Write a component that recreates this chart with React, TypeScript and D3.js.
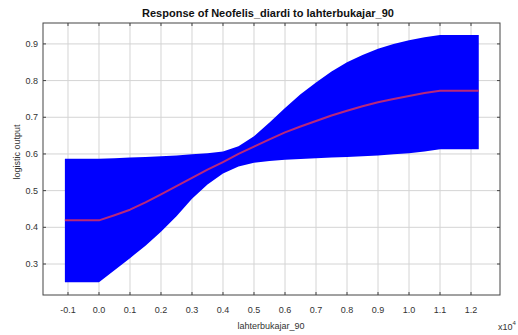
import React from "react";
import * as d3 from "d3";

const xs = [-0.11, 0.0, 0.05, 0.1, 0.15, 0.2, 0.25, 0.3, 0.35, 0.4, 0.45, 0.5, 0.55, 0.6, 0.65, 0.7, 0.75, 0.8, 0.85, 0.9, 0.95, 1.0, 1.05, 1.1, 1.225];
const upper = [0.587, 0.587, 0.588, 0.59, 0.592, 0.594, 0.596, 0.599, 0.602, 0.607, 0.621, 0.648, 0.686, 0.725, 0.763, 0.795, 0.825, 0.85, 0.87, 0.887, 0.9, 0.91, 0.918, 0.924, 0.924];
const lower = [0.25, 0.25, 0.283, 0.316, 0.35, 0.388, 0.43, 0.478, 0.517, 0.547, 0.566, 0.576, 0.581, 0.584, 0.586, 0.588, 0.59, 0.592, 0.594, 0.596, 0.599, 0.602, 0.607, 0.613, 0.613];
const meanVals = [0.419, 0.419, 0.433, 0.448, 0.468, 0.49, 0.512, 0.535, 0.557, 0.578, 0.6, 0.62, 0.64, 0.659, 0.675, 0.69, 0.705, 0.718, 0.73, 0.741, 0.75, 0.758, 0.766, 0.772, 0.772];

const xTicks = [-0.1, 0, 0.1, 0.2, 0.3, 0.4, 0.5, 0.6, 0.7, 0.8, 0.9, 1.0, 1.1, 1.2];
const yTicks = [0.3, 0.4, 0.5, 0.6, 0.7, 0.8, 0.9];

const title = "Response of Neofelis_diardi to lahterbukajar_90";
const xLabel = "lahterbukajar_90";
const yLabel = "logistic output";

export default function App() {
  const L = 43, R = 500, T = 23, B = 295;
  const x = d3.scaleLinear().domain([-0.1806, 1.2935]).range([L, R]);
  const y = d3.scaleLinear().domain([0.2155, 0.957]).range([B, T]);
  const pts = xs.map((v, i) => ({ x: v, lo: lower[i], hi: upper[i], m: meanVals[i] }));
  const area = d3
    .area<any>()
    .x((d) => x(d.x))
    .y0((d) => y(d.lo))
    .y1((d) => y(d.hi))
    .curve(d3.curveLinear);
  const line = d3
    .line<any>()
    .x((d) => x(d.x))
    .y((d) => y(d.m))
    .curve(d3.curveLinear);
  const font = "Arial, 'Liberation Sans', sans-serif";
  const grid = "#d4d4d4";
  return (
    <svg
      width={518}
      height={335}
      style={{ position: "absolute", left: 0, top: 0, background: "#fff" }}
      fontFamily={font}
    >
      <rect x={0} y={0} width={518} height={335} fill="#fff" />
      <text x={268} y={17} textAnchor="middle" fontWeight="bold" fontSize={11} fill="#111">
        {title}
      </text>
      {xTicks.map((t) => (
        <line key={"gx" + t} x1={x(t)} x2={x(t)} y1={T} y2={B} stroke={grid} strokeWidth={1} />
      ))}
      {yTicks.map((t) => (
        <line key={"gy" + t} x1={L} x2={R} y1={y(t)} y2={y(t)} stroke={grid} strokeWidth={1} />
      ))}
      <path d={area(pts) || ""} fill="#0000ff" stroke="none" />
      <path d={line(pts) || ""} fill="none" stroke="#b8287a" strokeWidth={2} strokeLinejoin="round" />
      <rect x={L} y={T} width={R - L} height={B - T} fill="none" stroke="#444" strokeWidth={1} />
      {xTicks.map((t) => (
        <g key={"tx" + t}>
          <line x1={x(t)} x2={x(t)} y1={B} y2={B - 3} stroke="#444" />
          <line x1={x(t)} x2={x(t)} y1={T} y2={T + 3} stroke="#444" />
          <text x={x(t)} y={313} textAnchor="middle" fontSize={9} fill="#333">
            {t.toFixed(1)}
          </text>
        </g>
      ))}
      {yTicks.map((t) => (
        <g key={"ty" + t}>
          <line x1={L} x2={L + 3} y1={y(t)} y2={y(t)} stroke="#444" />
          <line x1={R} x2={R - 3} y1={y(t)} y2={y(t)} stroke="#444" />
          <text x={38} y={y(t) + 3} textAnchor="end" fontSize={9} fill="#333">
            {t.toFixed(1)}
          </text>
        </g>
      ))}
      <text x={271} y={329} textAnchor="middle" fontSize={9} fill="#333">
        {xLabel}
      </text>
      <text
        transform={`translate(20,152) rotate(-90)`}
        textAnchor="middle"
        fontSize={9}
        fill="#333"
      >
        {yLabel}
      </text>
      <text x={498} y={330} fontSize={9} fill="#333">
        x10
        <tspan dy={-5} fontSize={6}>4</tspan>
      </text>
    </svg>
  );
}
